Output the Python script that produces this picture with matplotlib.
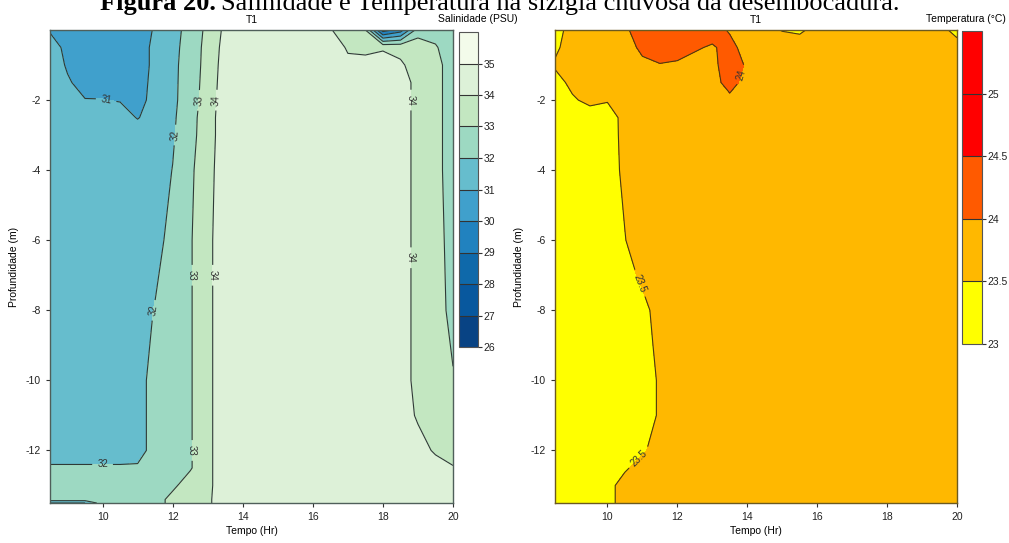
import matplotlib.pyplot as plt

plt.rcParams['font.family'] = ['Liberation Sans', 'DejaVu Sans']
plt.rcParams['axes.unicode_minus'] = False

# Salinidade (PSU) - grade tempo x profundidade
sal_tempo = [8.5, 9.0, 9.5, 10.0, 10.5, 11.0, 11.5, 12.0, 12.5, 13.0,
             13.5, 15.0, 16.5, 17.0, 17.5, 18.0, 18.5, 19.0, 19.5, 20.0]
sal_prof = [0, -0.5, -1.0, -1.5, -2.0, -2.5, -3.0, -4.0, -6.0, -8.0,
            -10.0, -11.0, -12.0, -12.5, -13.0, -13.4, -13.5]
salinidade = [
    [30.9, 30.5, 30.5, 30.5, 30.5, 30.5, 31.1, 31.8, 32.2, 33.3, 34.2, 34.5, 34.05, 33.6, 33.0, 28.5, 29.5, 32.5, 32.8, 32.7],
    [31.5, 30.7, 30.6, 30.6, 30.6, 30.6, 31.2, 31.8, 32.3, 33.4, 34.3, 34.5, 34.5, 33.9, 33.7, 33.9, 33.8, 33.6, 33.05, 32.7],
    [31.5, 30.9, 30.6, 30.6, 30.6, 30.6, 31.2, 31.8, 32.4, 33.4, 34.4, 34.5, 34.5, 34.2, 34.4, 34.4, 34.1, 33.7, 33.2, 32.7],
    [31.5, 31.1, 30.7, 30.7, 30.7, 30.65, 31.25, 31.8, 32.45, 33.45, 34.45, 34.5, 34.5, 34.5, 34.5, 34.5, 34.3, 33.8, 33.2, 32.7],
    [31.5, 31.4, 31.03, 31.02, 30.95, 30.7, 31.3, 31.8, 32.5, 33.5, 34.5, 34.5, 34.5, 34.5, 34.5, 34.5, 34.3, 33.8, 33.2, 32.7],
    [31.5, 31.5, 31.5, 31.5, 31.4, 30.95, 31.4, 31.85, 32.6, 33.6, 34.5, 34.5, 34.5, 34.5, 34.5, 34.5, 34.3, 33.8, 33.2, 32.7],
    [31.5, 31.5, 31.5, 31.5, 31.5, 31.5, 31.55, 31.9, 32.65, 33.6, 34.5, 34.5, 34.5, 34.5, 34.5, 34.5, 34.3, 33.8, 33.2, 32.7],
    [31.5, 31.5, 31.5, 31.5, 31.5, 31.5, 31.6, 32.02, 32.8, 33.7, 34.5, 34.5, 34.5, 34.5, 34.5, 34.5, 34.3, 33.8, 33.2, 32.7],
    [31.5, 31.5, 31.5, 31.5, 31.5, 31.5, 31.7, 32.3, 32.9, 33.8, 34.5, 34.5, 34.5, 34.5, 34.5, 34.5, 34.3, 33.8, 33.25, 32.75],
    [31.5, 31.5, 31.5, 31.5, 31.5, 31.6, 32.05, 32.6, 32.9, 33.8, 34.5, 34.5, 34.5, 34.5, 34.5, 34.5, 34.3, 33.8, 33.3, 32.8],
    [31.5, 31.5, 31.5, 31.5, 31.5, 31.7, 32.3, 32.6, 32.9, 33.8, 34.5, 34.5, 34.5, 34.5, 34.5, 34.5, 34.3, 33.8, 33.5, 33.05],
    [31.5, 31.5, 31.5, 31.5, 31.5, 31.7, 32.3, 32.6, 32.9, 33.8, 34.5, 34.5, 34.5, 34.5, 34.5, 34.5, 34.4, 33.9, 33.6, 33.4],
    [31.6, 31.6, 31.6, 31.6, 31.6, 31.7, 32.3, 32.6, 32.9, 33.8, 34.5, 34.5, 34.5, 34.5, 34.5, 34.5, 34.5, 34.3, 33.9, 33.7],
    [32.1, 32.1, 32.1, 32.1, 32.1, 32.1, 32.4, 32.6, 32.9, 33.8, 34.5, 34.5, 34.5, 34.5, 34.5, 34.5, 34.5, 34.5, 34.3, 34.05],
    [32.5, 32.5, 32.5, 32.5, 32.5, 32.5, 32.5, 32.8, 33.5, 33.8, 34.5, 34.5, 34.5, 34.5, 34.5, 34.5, 34.5, 34.5, 34.5, 34.5],
    [32.5, 32.5, 32.5, 32.5, 32.5, 32.5, 32.6, 33.3, 33.6, 33.85, 34.5, 34.5, 34.5, 34.5, 34.5, 34.5, 34.5, 34.5, 34.5, 34.5],
    [31.0, 31.0, 31.0, 32.5, 32.5, 32.5, 32.6, 33.3, 33.6, 33.85, 34.5, 34.5, 34.5, 34.5, 34.5, 34.5, 34.5, 34.5, 34.5, 34.5],
]
sal_niveis = [26, 27, 28, 29, 30, 31, 32, 33, 34, 35, 36]
sal_ticks = [26, 27, 28, 29, 30, 31, 32, 33, 34, 35]
sal_cores = ['#084384', '#08589e', '#0f69aa', '#2182bf', '#40a0cc',
             '#66bdcd', '#9dd9c2', '#c3e7c1', '#ddf1d8', '#f3fbea']
sal_rotulos = [(10.1, -2.0), (12.1, -3.0), (11.45, -8.0), (10.0, -12.4),
               (12.65, -2.0), (12.55, -7.0), (12.55, -12.0),
               (13.2, -2.0), (13.1, -7.0), (18.8, -2.0), (18.8, -6.5)]

# Temperatura (°C) - grade tempo x profundidade
temp_tempo = [8.5, 9.0, 9.5, 10.0, 10.5, 11.0, 11.5, 12.0, 12.5, 13.0,
              13.5, 14.0, 15.0, 15.5, 16.0, 18.0, 19.5, 20.0]
temp_prof = [0, -0.5, -1.0, -1.5, -2.0, -2.5, -3.0, -4.0, -6.0, -7.0,
             -8.0, -9.0, -10.0, -11.0, -12.0, -12.5, -13.0, -13.5]
temperatura = [
    [23.30, 23.70, 23.75, 23.80, 23.90, 24.30, 24.30, 24.30, 24.30, 24.20, 23.95, 23.80, 23.48, 23.42, 23.65, 23.75, 23.70, 23.30],
    [23.42, 23.70, 23.75, 23.75, 23.80, 24.10, 24.20, 24.15, 24.05, 23.95, 24.15, 23.80, 23.75, 23.75, 23.75, 23.75, 23.75, 23.75],
    [23.55, 23.70, 23.75, 23.75, 23.75, 23.90, 23.98, 23.95, 23.85, 23.90, 24.20, 23.95, 23.75, 23.75, 23.75, 23.75, 23.75, 23.75],
    [23.35, 23.60, 23.70, 23.70, 23.75, 23.75, 23.80, 23.80, 23.80, 23.85, 24.15, 23.85, 23.75, 23.75, 23.75, 23.75, 23.75, 23.75],
    [23.30, 23.45, 23.60, 23.53, 23.70, 23.75, 23.75, 23.75, 23.75, 23.80, 23.90, 23.80, 23.75, 23.75, 23.75, 23.75, 23.75, 23.75],
    [23.30, 23.30, 23.30, 23.30, 23.63, 23.75, 23.75, 23.75, 23.75, 23.75, 23.75, 23.75, 23.75, 23.75, 23.75, 23.75, 23.75, 23.75],
    [23.30, 23.30, 23.30, 23.30, 23.62, 23.75, 23.75, 23.75, 23.75, 23.75, 23.75, 23.75, 23.75, 23.75, 23.75, 23.75, 23.75, 23.75],
    [23.30, 23.30, 23.30, 23.30, 23.59, 23.75, 23.75, 23.75, 23.75, 23.75, 23.75, 23.75, 23.75, 23.75, 23.75, 23.75, 23.75, 23.75],
    [23.30, 23.30, 23.30, 23.30, 23.485, 23.75, 23.75, 23.75, 23.75, 23.75, 23.75, 23.75, 23.75, 23.75, 23.75, 23.75, 23.75, 23.75],
    [23.30, 23.30, 23.30, 23.30, 23.30, 23.60, 23.75, 23.75, 23.75, 23.75, 23.75, 23.75, 23.75, 23.75, 23.75, 23.75, 23.75, 23.75],
    [23.30, 23.30, 23.30, 23.30, 23.30, 23.35, 23.70, 23.75, 23.75, 23.75, 23.75, 23.75, 23.75, 23.75, 23.75, 23.75, 23.75, 23.75],
    [23.30, 23.30, 23.30, 23.30, 23.30, 23.30, 23.63, 23.75, 23.75, 23.75, 23.75, 23.75, 23.75, 23.75, 23.75, 23.75, 23.75, 23.75],
    [23.30, 23.30, 23.30, 23.30, 23.30, 23.30, 23.55, 23.75, 23.75, 23.75, 23.75, 23.75, 23.75, 23.75, 23.75, 23.75, 23.75, 23.75],
    [23.30, 23.30, 23.30, 23.30, 23.30, 23.30, 23.55, 23.75, 23.75, 23.75, 23.75, 23.75, 23.75, 23.75, 23.75, 23.75, 23.75, 23.75],
    [23.30, 23.30, 23.30, 23.30, 23.30, 23.42, 23.75, 23.75, 23.75, 23.75, 23.75, 23.75, 23.75, 23.75, 23.75, 23.75, 23.75, 23.75],
    [23.30, 23.30, 23.30, 23.30, 23.42, 23.75, 23.75, 23.75, 23.75, 23.75, 23.75, 23.75, 23.75, 23.75, 23.75, 23.75, 23.75, 23.75],
    [23.30, 23.30, 23.30, 23.30, 23.75, 23.75, 23.75, 23.75, 23.75, 23.75, 23.75, 23.75, 23.75, 23.75, 23.75, 23.75, 23.75, 23.75],
    [23.30, 23.30, 23.30, 23.30, 23.75, 23.75, 23.75, 23.75, 23.75, 23.75, 23.75, 23.75, 23.75, 23.75, 23.75, 23.75, 23.75, 23.75],
]
temp_niveis = [23, 23.5, 24, 24.5, 25, 25.5]
temp_ticks = [23, 23.5, 24, 24.5, 25]
temp_cores = ['#ffff00', '#ffb800', '#ff5a00', '#ff0000', '#ff0000']
temp_rotulos = [(10.75, -7.3), (10.9, -12.2), (13.9, -1.3)]

x_ticks = [10, 12, 14, 16, 18, 20]
y_ticks = [-2, -4, -6, -8, -10, -12]

W, H = 1009, 543


def pos(x0, y0, x1, y1):
    # caixa em pixels -> fração da figura
    return [x0 / W, 1 - y1 / H, (x1 - x0) / W, (y1 - y0) / H]


def painel(ax, cax, tempo, prof, valores, niveis, cores, ticks, rotulos,
           cor_linha, cor_borda):
    cf = ax.contourf(tempo, prof, valores, levels=niveis, colors=cores)
    cs = ax.contour(tempo, prof, valores, levels=niveis, colors=cor_linha,
                    linewidths=0.8)
    ax.clabel(cs, manual=rotulos, inline=True, fontsize=7, fmt='%g',
              colors='#333333')
    ax.set_xlim(8.5, 20)
    ax.set_ylim(-13.5, 0)
    ax.set_xticks(x_ticks)
    ax.set_yticks(y_ticks)
    ax.tick_params(labelsize=7.5, length=3, width=0.8, colors='#333333',
                   labelcolor='#222222')
    for s in ax.spines.values():
        s.set_color(cor_borda)
        s.set_linewidth(1.0)
    ax.set_xlabel('Tempo (Hr)', fontsize=7.5, labelpad=3)
    ax.set_ylabel('Profundidade (m)', fontsize=7.5, labelpad=5)
    ax.set_title('T1', fontsize=7.5, pad=5)

    cb = fig.colorbar(cf, cax=cax, ticks=ticks, drawedges=True)
    cb.dividers.set_color('#333333')
    cb.dividers.set_linewidth(0.8)
    cb.outline.set_edgecolor('#555555')
    cb.outline.set_linewidth(0.8)
    cb.ax.tick_params(labelsize=7.5, length=3, width=0.8, colors='#333333',
                      labelcolor='#222222', pad=1)
    cb.ax.yaxis.set_major_formatter(plt.FormatStrFormatter('%g'))
    return cb


fig = plt.figure(figsize=(W / 100, H / 100), dpi=100)

ax_sal = fig.add_axes(pos(50, 30, 453, 503))
cax_sal = fig.add_axes(pos(459, 32, 478, 347))
ax_temp = fig.add_axes(pos(555, 30, 957, 503))
cax_temp = fig.add_axes(pos(962, 31, 982, 344))

painel(ax_sal, cax_sal, sal_tempo, sal_prof, salinidade, sal_niveis,
       sal_cores, sal_ticks, sal_rotulos, '#2e3a36', '#4f5f5a')
painel(ax_temp, cax_temp, temp_tempo, temp_prof, temperatura, temp_niveis,
       temp_cores, temp_ticks, temp_rotulos, '#4a3c10', '#6b5a20')

fig.text(518 / W, 1 - 19 / H, 'Salinidade (PSU)', fontsize=7.5,
         ha='right', va='center')
fig.text(1006 / W, 1 - 19 / H, 'Temperatura (°C)', fontsize=7.5,
         ha='right', va='center')

# legenda da figura (cortada no topo)
serif = ['Liberation Serif', 'DejaVu Serif']
y_tit = 1 - 10 / H
t1 = fig.text(100 / W, y_tit, 'Figura 20.', fontsize=19, weight='bold',
              family=serif, va='baseline')
fig.canvas.draw()
bb = t1.get_window_extent()
fig.text((bb.x1 + 5) / W, y_tit,
         'Salinidade e Temperatura na sizígia chuvosa da desembocadura.',
         fontsize=19, family=serif, va='baseline')

fig.savefig('out.png', dpi=100)
